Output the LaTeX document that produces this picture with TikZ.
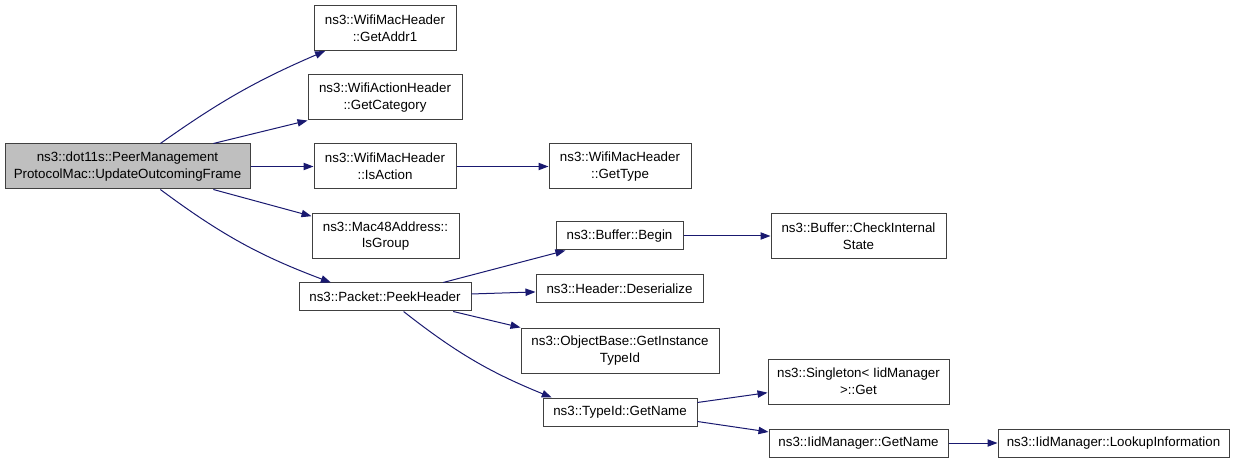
\documentclass[tikz,border=0pt]{standalone}
\usepackage{fontspec}
\setmainfont{Liberation Sans}
\usepackage{tikz}
\usetikzlibrary{arrows.meta}
\definecolor{edgeblue}{HTML}{191970}
\definecolor{boxline}{HTML}{404040}
\tikzset{
	fn/.style={draw=boxline, line width=0.75pt, rectangle, inner sep=0pt, align=center,
		font=\fontsize{10}{12.5}\selectfont, minimum height=21pt, minimum width=#1},
	fntwo/.style={fn=#1, minimum height=33.75pt},
	call/.style={draw=edgeblue, line width=0.75pt, -{Triangle[length=7.5pt,width=5.5pt]}}
}

\begin{document}
\begin{tikzpicture}[x=0.75pt, y=-0.75pt]
\useasboundingbox (0,0) rectangle (1235,463);

\node[fntwo=183.75pt, fill=black!25] (main) at (127.5,166.5) {ns3::dot11s::PeerManagement\\ProtocolMac::UpdateOutcomingFrame};

\node[fntwo=106.5pt] (addr1) at (385,28) {ns3::WifiMacHeader\\::GetAddr1};
\node[fntwo=115.5pt] (cat) at (385,97.5) {ns3::WifiActionHeader\\::GetCategory};
\node[fntwo=106.5pt] (isaction) at (385,166.5) {ns3::WifiMacHeader\\::IsAction};
\node[fntwo=110.25pt] (isgroup) at (385.5,236) {ns3::Mac48Address::\\IsGroup};
\node[fn=129pt] (peek) at (385,297) {ns3::Packet::PeekHeader};

\node[fntwo=106.5pt] (gettype) at (620,166.5) {ns3::WifiMacHeader\\::GetType};
\node[fn=95.25pt] (begin) at (619.5,236) {ns3::Buffer::Begin};
\node[fn=125.25pt] (deser) at (619.5,289) {ns3::Header::Deserialize};
\node[fntwo=148.5pt] (objbase) at (620,350.5) {ns3::ObjectBase::GetInstance\\TypeId};
\node[fn=115.5pt] (tidname) at (620,412) {ns3::TypeId::GetName};

\node[fntwo=131.25pt] (check) at (858.5,236) {ns3::Buffer::CheckInternal\\State};
\node[fntwo=135.75pt] (single) at (858.5,381.5) {ns3::Singleton< IidManager\\>::Get};
\node[fn=134.25pt] (iidname) at (858.5,443) {ns3::IidManager::GetName};
\node[fn=173.25pt] (lookup) at (1113.5,443) {ns3::IidManager::LookupInformation};

% calls
\draw[call] (main.35) to[bend left=6] (addr1.201);
\draw[call] (main.15) -- (cat.south west);
\draw[call] (main.east) -- (isaction.west);
\draw[call] (main.-15) -- (isgroup.165);
\draw[call] (main.-35) to[bend right=8] (peek.165);
\draw[call] (isaction.east) -- (gettype.west);
\draw[call] (peek.14) -- (begin.195);
\draw[call] (peek.2) -- (deser.182);
\draw[call] (peek.-12.5) -- (objbase.north west);
\draw[call] (peek.-38) to[bend right=8] (tidname.168);
\draw[call] (begin.east) -- (check.west);
\draw[call] (tidname.7) -- (single.187);
\draw[call] (tidname.-7) -- (iidname.173);
\draw[call] (iidname.east) -- (lookup.west);
\end{tikzpicture}
\end{document}
